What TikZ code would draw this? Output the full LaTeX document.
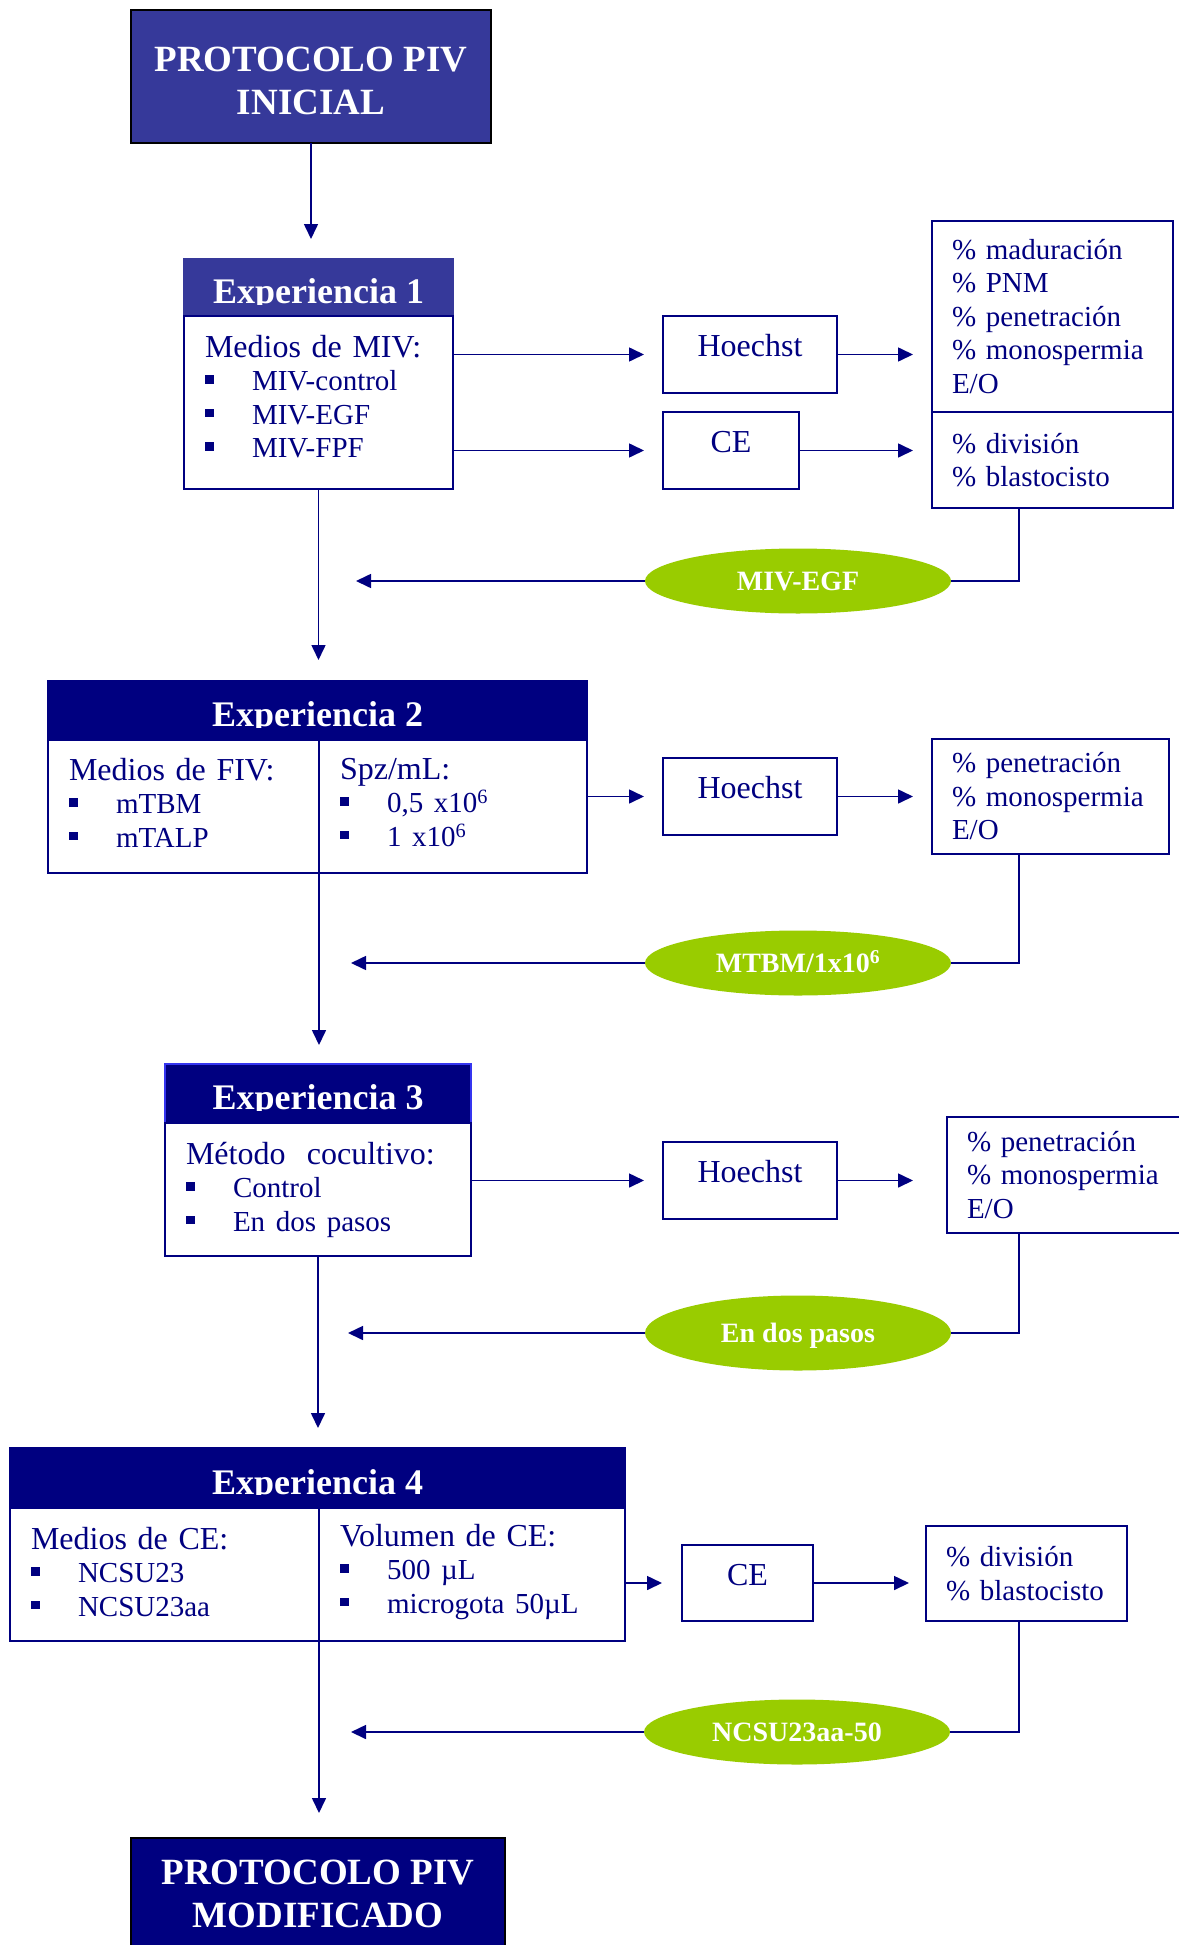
\documentclass[tikz,border=0pt]{standalone}
\usepackage{fontspec}
\setmainfont{Liberation Serif}
\usepackage{xcolor}
\usetikzlibrary{arrows.meta,positioning,shapes.geometric}
\definecolor{navyx}{HTML}{000080}
\definecolor{bluex}{HTML}{36399A}
\definecolor{brightx}{HTML}{3535F0}
\definecolor{greenx}{HTML}{99CC00}
\newcommand{\itm}[1]{\makebox[47pt][l]{\raisebox{7pt}{\rule{8.5pt}{8.5pt}}}{\fontsize{29}{33.5}\selectfont #1}}
\tikzset{
  ar/.style={-{Triangle[length=15pt,width=14pt]},line width=1.6pt,navyx},
  ln/.style={line width=1.6pt,navyx},
  toph/.style={draw=black,line width=1.6pt,text=white,font=\bfseries\fontsize{37}{43}\selectfont,align=center,inner sep=0pt,outer sep=0pt,anchor=north west},
  hdr/.style={fill=navyx,draw=navyx,line width=1.2pt,text=white,font=\bfseries\fontsize{36}{40}\selectfont,text height=32pt,text depth=0pt,inner sep=0pt,outer sep=0pt,anchor=north west},
  body/.style={draw=navyx,line width=1.4pt,fill=white,text=navyx,font=\fontsize{32}{33.5}\selectfont,align=left,inner xsep=21pt,inner ysep=0pt,outer sep=0pt,anchor=north west},
  tbox/.style={draw=navyx,line width=1.6pt,text=navyx,font=\fontsize{32}{34}\selectfont,text height=22pt,text depth=18pt,inner sep=0pt,outer sep=0pt,anchor=north west},
  res/.style={draw=navyx,line width=1.8pt,fill=white,text=navyx,font=\fontsize{29}{33.5}\selectfont,align=left,inner xsep=20pt,inner ysep=0pt,outer sep=0pt,anchor=north west},
  pick/.style={ellipse,fill=greenx,text=white,font=\bfseries\fontsize{28}{30}\selectfont,minimum width=306pt,minimum height=65pt,text height=19pt,text depth=0pt,inner sep=0pt}
}
\begin{document}
\begin{tikzpicture}[x=1pt,y=-1pt]
\path[use as bounding box,fill=white] (0,0) rectangle (1178,1945);

% protocolo inicial
\node[toph,fill=bluex,minimum width=360pt,minimum height=133pt] (top) at (131,10) {\rule{0pt}{34pt}PROTOCOLO PIV\\INICIAL};

% experiencia 1
\node[hdr,fill=bluex,draw=bluex,minimum width=269pt,minimum height=57pt] (h1) at (184,259) {Experiencia 1};
\node[body,below=0pt of h1,text width=227pt,minimum height=173pt] (b1) {Medios de MIV:\\\itm{MIV-control}\\\itm{MIV-EGF}\\\itm{MIV-FPF}\par\vspace{12pt}};
\node[tbox,minimum width=174pt,minimum height=77pt] (hoe1) at (663,316) {Hoechst};
\node[tbox,minimum width=136pt,minimum height=77pt] (ce1) at (663,412) {CE};
\node[res,text width=201pt,minimum height=191pt] (res1a) at (932,221) {\% maduración\\\% PNM\\\% penetración\\\% monospermia\\E/O};
\node[res,below=0pt of res1a,text width=201pt,minimum height=96pt] (res1b) {\% división\\\% blastocisto};
\node[pick] (ell1) at (798,581) {MIV-EGF};

% experiencia 2
\node[hdr,minimum width=539pt,minimum height=59pt] (h2) at (48,681) {Experiencia 2};
\node[body,text width=229pt,minimum height=133pt] (l2) at (h2.south west) {Medios de FIV:\\\itm{mTBM}\\\itm{mTALP}\par\vspace{8pt}};
\node[body,right=0pt of l2,text width=226pt,minimum height=133pt] (r2) {Spz/mL:\\\itm{0,5 x10\textsuperscript{6}}\\\itm{1 x10\textsuperscript{6}}\par\vspace{8pt}};
\node[tbox,minimum width=174pt,minimum height=77pt] (hoe2) at (663,758) {Hoechst};
\node[res,text width=197pt,minimum height=115pt] (res2) at (932,739) {\% penetración\\\% monospermia\\E/O};
\node[pick] (ell2) at (798,963) {MTBM/1x10\textsuperscript{6}};

% experiencia 3
\node[hdr,draw=brightx,minimum width=306pt,minimum height=59pt] (h3) at (165,1064) {Experiencia 3};
\node[body,below=0pt of h3,text width=264pt,minimum height=133pt] (b3) {Método\ \ cocultivo:\\\itm{Control}\\\itm{En dos pasos}};
\node[tbox,minimum width=174pt,minimum height=77pt] (hoe3) at (663,1142) {Hoechst};
\node[res,text width=200pt,minimum height=116pt] (res3) at (947,1117) {\% penetración\\\% monospermia\\E/O};
\node[pick,minimum height=75pt] (ell3) at (798,1333) {En dos pasos};

% experiencia 4
\node[hdr,minimum width=615pt,minimum height=60pt] (h4) at (10,1448) {Experiencia 4};
\node[body,text width=267pt,minimum height=133pt] (l4) at (h4.south west) {Medios de CE:\\\itm{NCSU23}\\\itm{NCSU23aa}\par\vspace{5pt}};
\node[body,right=0pt of l4,text width=264pt,minimum height=133pt] (r4) {Volumen de CE:\\\itm{500 µL}\\\itm{microgota 50µL}\par\vspace{5pt}};
\node[tbox,minimum width=131pt,minimum height=76pt] (ce4) at (682,1545) {CE};
\node[res,text width=161pt,minimum height=95pt] (res4) at (926,1526) {\% división\\\% blastocisto};
\node[pick] (ell4) at (797,1732) {NCSU23aa-50};

% protocolo modificado
\node[toph,fill=navyx,minimum width=374pt,minimum height=112pt] (fin) at (131,1838) {PROTOCOLO PIV\\MODIFICADO};

% header text cut at baseline
\foreach \h/\c in {h1/bluex,h2/navyx,h3/navyx,h4/navyx}
  \fill[\c] ([shift={(2pt,-1pt)}]\h.base west) rectangle ([shift={(-2pt,2pt)}]\h.south east);

% main flow
\draw[ar,shorten >=20pt] (top.south) -- (top.south |- h1.north);
\draw[ar,shorten >=21pt] (b1.south) -- (b1.south |- h2.north);
\draw[ar,shorten >=19pt] (l2.south east) -- (l2.south east |- h3.north);
\draw[ar,shorten >=20pt] (b3.south) -- (b3.south |- h4.north);
\draw[ar,shorten >=25pt] (l4.south east) -- (l4.south east |- fin.north);

% to the tests
\draw[ar,shorten >=19pt] (b1.east |- hoe1) -- (hoe1.west);
\draw[ar,shorten >=19pt] (b1.east |- ce1) -- (ce1.west);
\draw[ar,shorten >=19pt] (hoe1.east) -- (hoe1.east -| res1a.west);
\draw[ar,shorten >=19pt] (ce1.east) -- (ce1.east -| res1b.west);
\draw[ar,shorten >=19pt] (r2.east |- hoe2) -- (hoe2.west);
\draw[ar,shorten >=19pt] (hoe2.east) -- (hoe2.east -| res2.west);
\draw[ar,shorten >=19pt] (b3.east |- hoe3) -- (hoe3.west);
\draw[ar,shorten >=34pt] (hoe3.east) -- (hoe3.east -| res3.west);
\draw[ar,shorten >=20pt] (r4.east |- ce4) -- (ce4.west);
\draw[ar,shorten >=17pt] (ce4.east) -- (ce4.east -| res4.west);

% chosen condition back to the flow
\coordinate (fbx) at (1019,0);
\coordinate (back1) at (356,581);
\coordinate (back2) at (351,963);
\coordinate (back3) at (348,1333);
\coordinate (back4) at (351,1732);
\draw[ln] (res1b.south -| fbx) |- (ell1.east);
\draw[ln] (res2.south -| fbx) |- (ell2.east);
\draw[ln] (res3.south -| fbx) |- (ell3.east);
\draw[ln] (res4.south -| fbx) |- (ell4.east);
\draw[ar] (ell1.west) -- (back1);
\draw[ar] (ell2.west) -- (back2);
\draw[ar] (ell3.west) -- (back3);
\draw[ar] (ell4.west) -- (back4);
\end{tikzpicture}
\end{document}
